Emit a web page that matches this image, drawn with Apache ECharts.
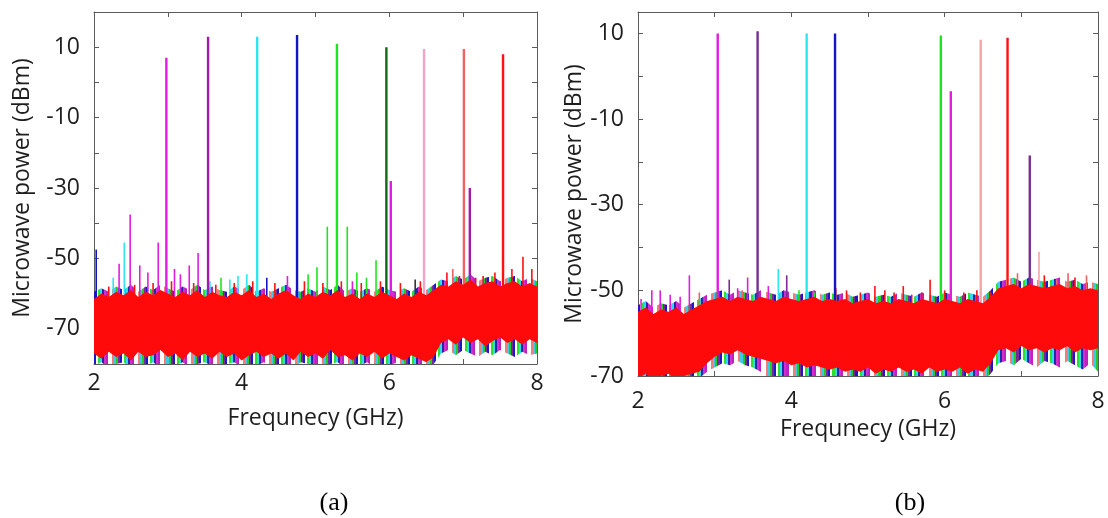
<!DOCTYPE html>
<html>
<head>
<meta charset="utf-8">
<script src="https://cdn.jsdelivr.net/npm/echarts@6/dist/echarts.min.js"></script>
<style>
  html, body { margin: 0; padding: 0; background: #fff; }
  #chart { width: 1108px; height: 518px; }
</style>
</head>
<body>
<div id="chart"></div>
<script>
// Frequency grid (GHz) used for the noise-floor envelopes
const freqGrid = [
  2.0, 2.1, 2.2, 2.3, 2.4, 2.5, 2.6, 2.7, 2.8, 2.9,
  3.0, 3.1, 3.2, 3.3, 3.4, 3.5, 3.6, 3.7, 3.8, 3.9,
  4.0, 4.1, 4.2, 4.3, 4.4, 4.5, 4.6, 4.7, 4.8, 4.9,
  5.0, 5.1, 5.2, 5.3, 5.4, 5.5, 5.6, 5.7, 5.8, 5.9,
  6.0, 6.1, 6.2, 6.3, 6.4, 6.5, 6.6, 6.7, 6.8, 6.9,
  7.0, 7.1, 7.2, 7.3, 7.4, 7.5, 7.6, 7.7, 7.8, 7.9, 8.0
];

// ---- Panel (a): noise floor envelopes (dBm) ----
const aRedTop = [
  -61.5, -60, -61, -59.5, -60.5, -59, -61, -59.5, -60.5, -59,
  -60, -61, -59.5, -60.5, -59, -61, -59.5, -60.5, -61, -59.5,
  -60.5, -59, -61, -60, -61.5, -60, -59, -60.5, -61.5, -60,
  -61, -59.5, -60.5, -59, -61, -60, -61.5, -60, -61, -59.5,
  -60.5, -61.5, -60, -61, -59.5, -60.5, -59, -57.5, -58, -56.5,
  -57.5, -56, -58, -57, -56.5, -58, -57, -56.5, -58, -57, -58
];
const aRedLow = [
  -77, -78.5, -76.5, -78, -77, -79, -76.5, -78, -77.5, -76,
  -78, -77, -79, -76.5, -78, -77, -78.5, -76.5, -78, -77,
  -79, -77.5, -76.5, -78, -77, -78.5, -77, -79, -76.5, -78,
  -77, -78.5, -76, -78, -77.5, -79, -77, -78, -76.5, -78.5,
  -77, -78, -79, -77.5, -78.5, -79.5, -78, -74, -73, -74.5,
  -72.5, -74, -73, -75, -73.5, -72.5, -74, -73, -74.5, -73, -74
];
// envelope of all traces together
const aAllTop = [
  -59.5, -58.5, -59.5, -58, -59, -57.5, -59.5, -58, -59, -57.5,
  -58.5, -59.5, -58, -59, -57.5, -59, -58, -59, -59.5, -58,
  -59, -57.5, -59.5, -58.5, -59.5, -58.5, -57.5, -59, -59.5, -58.5,
  -59.5, -58, -59, -57.5, -59.5, -58.5, -59.5, -58.5, -59.5, -58,
  -59, -59.5, -58.5, -59.5, -58, -59, -57.5, -56, -56.5, -55,
  -56, -54.5, -56.5, -55.5, -55, -56.5, -55.5, -55, -56.5, -55.5, -56.5
];
const aAllLow = [
  -80.5, -79.5, -81, -80, -79.5, -81, -80, -80.5, -79.5, -81,
  -80, -80.5, -79.5, -81, -80, -79.5, -80.5, -81, -80, -79.5,
  -81, -80, -80.5, -79.5, -81, -80, -80.5, -81, -79.5, -80,
  -80.5, -81, -80, -79.5, -81, -80, -80.5, -79.5, -81, -80,
  -80.5, -79.5, -81, -80, -80.5, -81, -80, -77, -76, -77.5,
  -76, -77, -78, -76.5, -77.5, -76, -77, -78, -76.5, -77.5, -77
];

// Panel (a): carrier tones [GHz, peak dBm, trace]
const aTones = [
  [2.98, 7, 'M'], [3.545, 13, 'P'], [4.21, 13, 'C'], [4.75, 13.5, 'B'],
  [5.29, 11, 'G'], [5.96, 10, 'DG'], [6.02, -28, 'M'], [6.47, 9.5, 'PK'],
  [7.01, 9.5, 'S'], [7.09, -30, 'P'], [7.54, 8, 'R']
];
// Panel (a): spurs rising above the floor [GHz, peak dBm, trace]
const aSpurs = [
  [2.03, -47.5, 'B'], [2.26, -55.5, 'C'], [2.34, -51.5, 'M'], [2.41, -45.5, 'C'],
  [2.49, -37.5, 'M'], [2.62, -52, 'M'], [2.73, -54, 'M'], [2.87, -45.5, 'M'],
  [3.09, -53, 'M'], [3.17, -54.5, 'M'], [3.29, -52, 'M'], [3.41, -48.5, 'M'],
  [3.57, -56.5, 'C'], [3.72, -55.5, 'G'], [3.84, -56, 'C'], [3.95, -55, 'C'],
  [4.07, -54.5, 'C'], [4.34, -55.5, 'B'], [4.62, -55, 'M'], [4.9, -54.5, 'G'],
  [5.02, -52.5, 'G'], [5.16, -41, 'G'], [5.43, -41, 'G'], [5.5, -56.5, 'M'],
  [5.56, -54, 'G'], [5.69, -55.5, 'G'], [5.82, -50.5, 'G'], [6.35, -56, 'K'],
  [6.86, -53, 'S'], [6.78, -54, 'R'], [6.95, -55, 'R'], [7.17, -55.5, 'R'],
  [7.27, -55, 'R'], [7.43, -54, 'R'], [7.66, -53, 'R'], [7.81, -49.5, 'R'],
  [7.93, -53, 'R'], [2.2, -58, 'R'], [2.55, -57.5, 'R'], [2.8, -57, 'R'],
  [3.05, -56.5, 'R'], [3.35, -57, 'R'], [3.65, -57.5, 'R'], [3.9, -57, 'R'],
  [4.15, -56.5, 'R'], [4.45, -57, 'R'], [4.85, -56.5, 'R'], [5.1, -57, 'R'],
  [5.35, -56.5, 'R'], [5.62, -57, 'R'], [5.88, -56.5, 'R'], [6.15, -57, 'R'],
  [6.42, -56.5, 'R']
];

// ---- Panel (b): noise floor envelopes (dBm) ----
const bRedTop = [
  -55, -54, -55.5, -54.5, -55, -54, -55.5, -54.5, -53.5, -52.5,
  -52, -51.5, -52.5, -51.5, -52, -52.5, -51.5, -52, -52.5, -51.5,
  -52, -52.5, -52, -51.5, -52.5, -52, -52.5, -52, -53, -52.5,
  -52, -53, -52.5, -53, -52, -52.5, -53, -52, -52.5, -53,
  -52, -52.5, -53, -52, -52.5, -53, -51.5, -49.5, -49, -48.5,
  -49.5, -48.5, -49, -49.5, -49, -48.5, -49.5, -49, -50, -49.5, -50
];
const bRedLow = [
  -70.5, -69.5, -71, -70, -69.5, -71, -70, -69.5, -69, -67,
  -65.5, -64.5, -65, -64, -65, -65.5, -66, -66.5, -67, -66.5,
  -67.5, -67, -68, -67.5, -68, -68.5, -68, -69, -68.5, -69,
  -68, -69.5, -68.5, -69, -68, -69, -68.5, -69.5, -68, -69,
  -68.5, -69, -68, -69.5, -68.5, -69, -67, -64, -63.5, -64.5,
  -63, -64, -63.5, -64.5, -63.5, -64, -63, -64.5, -63.5, -64, -63.5
];
// envelope of all traces together
const bAllTop = [
  -53.5, -52.5, -54, -53, -53.5, -52.5, -54, -53, -52, -51,
  -50.5, -50, -51, -50, -50.5, -51, -50, -50.5, -51, -50,
  -50.5, -51, -50.5, -50, -51, -50.5, -51, -50.5, -51.5, -51,
  -50.5, -51.5, -51, -51.5, -50.5, -51, -51.5, -50.5, -51, -51.5,
  -50.5, -51, -51.5, -50.5, -51, -51.5, -50, -48, -47.5, -47,
  -48, -47, -47.5, -48, -47.5, -47, -48, -47.5, -48.5, -48, -48.5
];
const bAllLow = [
  -71, -70.5, -71, -71, -70.5, -71, -71, -70.5, -70.5, -69,
  -68, -67, -67.5, -66.5, -67.5, -68, -69, -70.5, -71, -70.5,
  -71, -71, -70.5, -71, -71, -70.5, -71, -70.5, -71, -71,
  -70.5, -71, -71, -70.5, -71, -70.5, -71, -71, -70.5, -71,
  -71, -70.5, -71, -71, -70.5, -71, -69.5, -67, -66.5, -67.5,
  -66, -67, -68, -66.5, -67, -68, -66.5, -67.5, -68.5, -67, -69
];

// Panel (b): carrier tones [GHz, peak dBm, trace]
const bTones = [
  [3.04, 10, 'M'], [3.56, 10.5, 'P2'], [4.2, 10, 'C'], [4.57, 10, 'B'],
  [5.95, 9.5, 'G'], [6.08, -3.5, 'M'], [6.47, 8.5, 'PK2'], [6.82, 9, 'R'],
  [7.11, -18.5, 'P2']
];
// Panel (b): spurs rising above the floor [GHz, peak dBm, trace]
const bSpurs = [
  [2.04, -52, 'M'], [2.18, -50, 'M'], [2.29, -50, 'M'], [2.42, -51, 'M'],
  [2.55, -51.5, 'M'], [2.67, -46.5, 'M'], [2.8, -50.5, 'S'], [3.19, -47.5, 'P2'],
  [3.3, -49.5, 'M'], [3.36, -50, 'S'], [3.43, -47, 'M'], [3.7, -49, 'M'],
  [3.83, -45, 'C'], [3.94, -46.5, 'P2'], [4.1, -50, 'G'], [4.3, -50.5, 'G'],
  [4.58, -49.5, 'R'], [4.72, -50, 'R'], [4.9, -50.5, 'R'], [5.09, -49, 'R'],
  [5.22, -50, 'R'], [5.34, -50.5, 'R'], [5.46, -49, 'R'], [5.57, -51, 'R'],
  [5.7, -50.5, 'R'], [5.81, -47.5, 'R'], [6.0, -50, 'R'], [6.25, -50.5, 'R'],
  [6.42, -50, 'R'], [6.6, -50.5, 'R'], [6.95, -46, 'S'], [7.23, -41, 'PK2'],
  [7.3, -46.5, 'R'], [7.46, -47.5, 'S'], [7.61, -46, 'S'], [7.7, -47, 'R'],
  [7.85, -46.5, 'S']
];

// Axis ticks / labels
const xTickStep = 1;
const yTickStep = 10;
const xRange = [2, 8];
const aYRange = [-80, 20];
const bYRange = [-70, 15];
const xTitle = 'Frequnecy (GHz)';
const yTitle = 'Microwave power (dBm)';
const panelTags = ['(a)', '(b)'];

// Trace colours
const TRACE = {
  M: '#e01ee0', P: '#a21aa8', P2: '#7b2c92', C: '#2ee6f2', B: '#1414c4',
  G: '#1ee61e', DG: '#0e6a16', PK: '#f4a2c6', PK2: '#f4a4a4', S: '#ee6262',
  R: '#ff1010', K: '#333333'
};
// speckled edge of the overlapping traces (white = gap between traces)
const speckleColors = ['#1818c8', '#ffffff', '#30d8f0', '#22cc22', '#c020c0', '#ffffff',
                       '#f07c7c', '#2626a8', '#7a2a90', '#ffffff', '#2ee02e', '#40c8e8', '#d030d0'];

const FONT = 'Open Sans';
const FS = 23;
const AXIS_COLOR = '#5a5a5a';
const TEXT_COLOR = '#1e1e1e';

const chart = echarts.init(document.getElementById('chart'));

function speckle(n) {
  const stops = [];
  for (let i = 0; i < n; i++) {
    const c = speckleColors[(i * 5) % speckleColors.length];
    stops.push({ offset: i / n, color: c }, { offset: (i + 1) / n, color: c });
  }
  return new echarts.graphic.LinearGradient(0, 0, 1, 0, stops);
}

// Filled band between two envelopes, drawn as one polygon through the axis scales
function band(low, high, xi, yi, fill, z) {
  return {
    type: 'custom', xAxisIndex: xi, yAxisIndex: yi, z: z, silent: true, clip: true,
    encode: { x: 0, y: [1, 2] },
    data: freqGrid.map((f, i) => [f, low[i], high[i]]),
    renderItem: function (params, api) {
      if (params.dataIndex !== 0) return null;
      const pts = [];
      for (let i = 0; i < freqGrid.length; i++) pts.push(api.coord([freqGrid[i], high[i]]));
      for (let i = freqGrid.length - 1; i >= 0; i--) pts.push(api.coord([freqGrid[i], low[i]]));
      return { type: 'polygon', shape: { points: pts }, style: { fill: fill } };
    }
  };
}

// Vertical spectral lines from a base level up to each peak
function vlines(list, base, xi, yi, width, z) {
  return {
    type: 'custom', xAxisIndex: xi, yAxisIndex: yi, z: z, silent: true, clip: true,
    encode: { x: 0, y: 1 },
    data: list.map(s => [s[0], s[1], base]),
    renderItem: function (params, api) {
      const p1 = api.coord([api.value(0), api.value(1)]);
      const p2 = api.coord([api.value(0), api.value(2)]);
      return {
        type: 'line',
        shape: { x1: p1[0], y1: p1[1], x2: p2[0], y2: p2[1] },
        style: { stroke: TRACE[list[params.dataIndex][2]], lineWidth: width }
      };
    }
  };
}

function xAxes(gi) {
  const common = {
    type: 'value', gridIndex: gi, min: xRange[0], max: xRange[1], interval: xTickStep,
    splitLine: { show: false },
    axisLine: { onZero: false, lineStyle: { color: AXIS_COLOR, width: 1 } },
    axisTick: { inside: true, length: 5, lineStyle: { color: AXIS_COLOR } }
  };
  return [
    Object.assign({}, common, {
      position: 'bottom',
      axisLabel: {
        color: TEXT_COLOR, fontFamily: FONT, fontSize: FS, margin: gi === 0 ? 8 : 14,
        formatter: v => (v % 2 === 0 ? String(v) : '')
      },
      name: xTitle, nameLocation: 'middle', nameGap: gi === 0 ? 43 : 42,
      nameTextStyle: { color: TEXT_COLOR, fontFamily: FONT, fontSize: FS }
    }),
    Object.assign({}, common, { position: 'top', axisLabel: { show: false } })
  ];
}

function yAxes(gi, range) {
  const common = {
    type: 'value', gridIndex: gi, min: range[0], max: range[1], interval: yTickStep,
    splitLine: { show: false },
    axisLine: { onZero: false, lineStyle: { color: AXIS_COLOR, width: 1 } },
    axisTick: { inside: true, length: 5, lineStyle: { color: AXIS_COLOR } }
  };
  return [
    Object.assign({}, common, {
      position: 'left',
      axisLabel: {
        color: TEXT_COLOR, fontFamily: FONT, fontSize: FS, margin: 14,
        formatter: v => (Math.abs(v % 20) === 10 ? String(v) : '')
      },
      name: yTitle, nameLocation: 'middle', nameGap: gi === 0 ? 60 : 51,
      nameTextStyle: { color: TEXT_COLOR, fontFamily: FONT, fontSize: FS }
    }),
    Object.assign({}, common, { position: 'right', axisLabel: { show: false } })
  ];
}

const option = {
  backgroundColor: '#ffffff',
  animation: false,
  grid: [
    { left: 94, top: 12, width: 443, height: 352 },
    { left: 638, top: 12, width: 460, height: 364 }
  ],
  xAxis: [...xAxes(0), ...xAxes(1)],
  yAxis: [...yAxes(0, aYRange), ...yAxes(1, bYRange)],
  graphic: [
    { type: 'text', x: 334, y: 503, style: { text: panelTags[0], fontFamily: 'Liberation Serif', fontSize: 26, fill: '#000', align: 'center', verticalAlign: 'middle' } },
    { type: 'text', x: 910, y: 503, style: { text: panelTags[1], fontFamily: 'Liberation Serif', fontSize: 26, fill: '#000', align: 'center', verticalAlign: 'middle' } }
  ],
  series: [
    band(aAllLow, aAllTop, 0, 0, speckle(220), 1),
    vlines(aSpurs, -66, 0, 0, 1.6, 2),
    vlines(aTones, -66, 0, 0, 2.4, 2),
    band(aRedLow, aRedTop, 0, 0, '#ff0a0a', 3),
    band(bAllLow, bAllTop, 2, 2, speckle(220), 1),
    vlines(bSpurs, -60, 2, 2, 1.6, 2),
    vlines(bTones, -60, 2, 2, 2.4, 2),
    band(bRedLow, bRedTop, 2, 2, '#ff0a0a', 3)
  ]
};

chart.setOption(option);
</script>
</body>
</html>
